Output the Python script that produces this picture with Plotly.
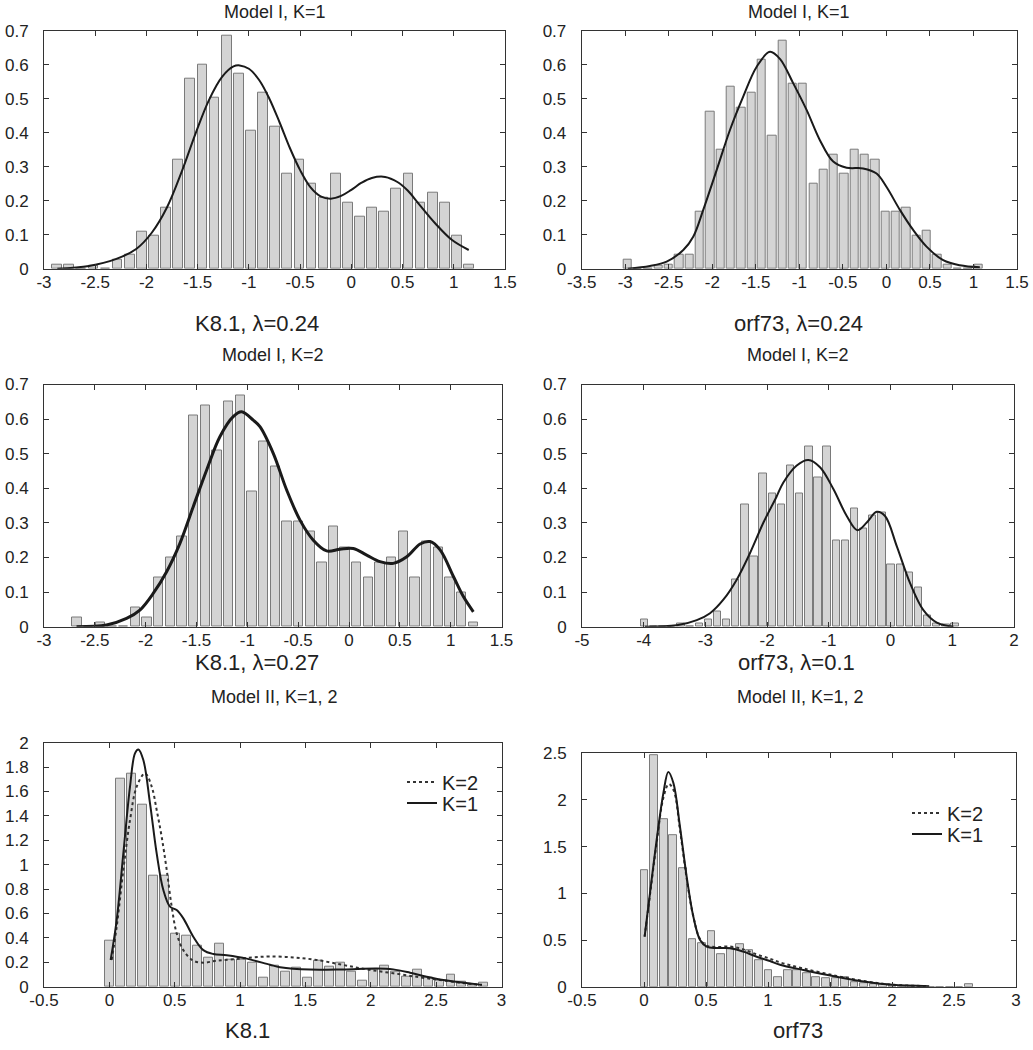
import plotly.graph_objects as go

W, H = 1033, 1050

# ---------------- DATA ----------------
# Panel 1: K8.1, Model I, K=1
p1_centers = [-2.873, -2.755, -2.636, -2.518, -2.400, -2.282, -2.163, -2.045, -1.927, -1.808,
              -1.690, -1.572, -1.454, -1.335, -1.217, -1.099, -0.981, -0.862, -0.744, -0.626,
              -0.507, -0.389, -0.271, -0.152, -0.034, 0.084, 0.202, 0.321, 0.439, 0.557,
              0.676, 0.794, 0.912, 1.031, 1.149]
p1_heights = [0.013, 0.013, 0, 0.010, 0, 0.027, 0.040, 0.110, 0.097, 0.180,
              0.320, 0.560, 0.600, 0.502, 0.684, 0.573, 0.405, 0.517, 0.418, 0.278,
              0.320, 0.250, 0.209, 0.278, 0.194, 0.153, 0.180, 0.167, 0.236, 0.278,
              0.194, 0.223, 0.194, 0.096, 0.013]
p1_curve_x = [-2.87, -2.56, -2.3, -2.1, -1.95, -1.8, -1.65, -1.52, -1.39, -1.26, -1.15, -1.09,
              -1.0, -0.9, -0.8, -0.7, -0.6, -0.5, -0.4, -0.3, -0.2, -0.1, 0.0, 0.1, 0.2,
              0.33, 0.45, 0.55, 0.66, 0.82, 0.98, 1.146]
p1_curve_y = [0.0, 0.008, 0.028, 0.058, 0.105, 0.180, 0.290, 0.398, 0.496, 0.565, 0.595, 0.598,
              0.588, 0.555, 0.500, 0.430, 0.355, 0.290, 0.240, 0.213, 0.206, 0.214, 0.232, 0.253,
              0.267, 0.270, 0.255, 0.230, 0.190, 0.133, 0.085, 0.055]

# Panel 2: orf73, Model I, K=1
p2_centers = [-2.972, -2.854, -2.735, -2.617, -2.498, -2.380, -2.261, -2.143, -2.024, -1.906,
              -1.787, -1.669, -1.550, -1.432, -1.313, -1.195, -1.076, -0.958, -0.839, -0.721,
              -0.602, -0.484, -0.365, -0.247, -0.128, -0.010, 0.109, 0.227, 0.346, 0.465,
              0.583, 0.702, 0.820, 0.939, 1.057]
p2_heights = [0.027, 0, 0, 0.010, 0.013, 0.040, 0.040, 0.167, 0.461, 0.349,
              0.535, 0.473, 0.518, 0.616, 0.391, 0.672, 0.545, 0.545, 0.251, 0.292,
              0.334, 0.278, 0.349, 0.334, 0.320, 0.167, 0.167, 0.180, 0.096, 0.111,
              0.040, 0.013, 0, 0, 0.013]
p2_curve_x = [-2.97, -2.716, -2.524, -2.333, -2.219, -2.104, -1.95, -1.797, -1.645, -1.49,
              -1.338, -1.223, -1.07, -0.917, -0.764, -0.611, -0.457, -0.267, -0.113, 0.0,
              0.155, 0.307, 0.461, 0.652, 0.843, 1.073]
p2_curve_y = [0.0, 0.008, 0.021, 0.055, 0.094, 0.173, 0.290, 0.408, 0.506, 0.594,
              0.638, 0.617, 0.545, 0.467, 0.378, 0.315, 0.297, 0.295, 0.280, 0.241,
              0.173, 0.114, 0.065, 0.025, 0.010, 0.004]

# Panel 3: K8.1, Model I, K=2
p3_centers = [-2.674, -2.559, -2.445, -2.330, -2.216, -2.101, -1.986, -1.872, -1.757, -1.643,
              -1.528, -1.413, -1.299, -1.184, -1.070, -0.955, -0.840, -0.726, -0.611, -0.497,
              -0.382, -0.267, -0.153, -0.038, 0.076, 0.191, 0.306, 0.420, 0.535, 0.649,
              0.764, 0.879, 0.993, 1.108, 1.222]
p3_heights = [0.027, 0, 0.0125, 0, 0, 0.056, 0.027, 0.143, 0.200, 0.260,
              0.609, 0.638, 0.508, 0.652, 0.667, 0.391, 0.536, 0.462, 0.303, 0.303,
              0.275, 0.187, 0.289, 0.229, 0.187, 0.143, 0.187, 0.200, 0.275, 0.143,
              0.246, 0.229, 0.143, 0.100, 0.0125]
p3_curve_x = [-2.68, -2.385, -2.188, -2.057, -1.926, -1.794, -1.663, -1.532, -1.40, -1.27,
              -1.139, -1.056, -0.942, -0.876, -0.745, -0.613, -0.482, -0.351, -0.22, -0.089,
              0.042, 0.174, 0.305, 0.436, 0.568, 0.699, 0.797, 0.896, 1.027, 1.125, 1.223]
p3_curve_y = [0.0, 0.005, 0.024, 0.048, 0.096, 0.159, 0.241, 0.347, 0.453, 0.549,
              0.607, 0.621, 0.597, 0.578, 0.501, 0.395, 0.308, 0.250, 0.219, 0.224,
              0.226, 0.207, 0.188, 0.183, 0.202, 0.239, 0.246, 0.222, 0.145, 0.087, 0.043]

# Panel 4: orf73, Model I, K=2
p4_centers = [-3.990, -3.842, -3.694, -3.546, -3.398, -3.250, -3.101, -2.953, -2.805, -2.657,
              -2.509, -2.361, -2.213, -2.065, -1.917, -1.769, -1.620, -1.472, -1.324, -1.176,
              -1.028, -0.880, -0.732, -0.584, -0.436, -0.288, -0.139, 0.009, 0.157, 0.305,
              0.453, 0.601, 0.749, 0.897, 1.045]
p4_heights = [0.021, 0, 0, 0, 0.010, 0, 0.010, 0.021, 0.044, 0.021,
              0.135, 0.352, 0.204, 0.443, 0.386, 0.352, 0.466, 0.386, 0.522, 0.432,
              0.522, 0.250, 0.250, 0.341, 0.283, 0.320, 0.330, 0.181, 0.181, 0.158,
              0.112, 0.032, 0.010, 0.005, 0.010]
p4_curve_x = [-3.98, -3.465, -3.14, -2.925, -2.71, -2.493, -2.277, -2.06, -1.85, -1.737,
              -1.52, -1.332, -1.143, -0.927, -0.71, -0.538, -0.386, -0.224, -0.09, 0.1,
              0.316, 0.532, 0.749, 1.018]
p4_curve_y = [0.0, 0.004, 0.019, 0.039, 0.078, 0.136, 0.213, 0.301, 0.375, 0.417,
              0.466, 0.482, 0.461, 0.398, 0.320, 0.279, 0.301, 0.332, 0.320, 0.233,
              0.126, 0.048, 0.012, 0.0]

# Panel 5: K8.1, Model II
p5_centers = [0.003, 0.087, 0.171, 0.255, 0.339, 0.424, 0.508, 0.592, 0.676, 0.760,
              0.845, 0.929, 1.013, 1.097, 1.181, 1.266, 1.350, 1.434, 1.518, 1.602,
              1.686, 1.771, 1.855, 1.939, 2.023, 2.107, 2.192, 2.276, 2.360, 2.444,
              2.528, 2.613, 2.697, 2.781, 2.865]
p5_heights = [0.377, 1.708, 1.749, 1.489, 0.913, 0.913, 0.437, 0.415, 0.336, 0.235,
              0.355, 0.219, 0.219, 0.197, 0.077, 0.170, 0.120, 0.153, 0.077, 0.213,
              0.164, 0.197, 0.120, 0.050, 0.142, 0.175, 0.120, 0.082, 0.137, 0.070,
              0.050, 0.096, 0.040, 0.020, 0.030]
p5_k1_x = [0.01, 0.056, 0.107, 0.158, 0.196, 0.222, 0.26, 0.311, 0.362, 0.413, 0.464, 0.515,
           0.566, 0.642, 0.719, 0.795, 0.898, 1.051, 1.229, 1.306, 1.535, 1.79, 2.045, 2.172,
           2.30, 2.428, 2.555, 2.70, 2.85]
p5_k1_y = [0.219, 0.546, 1.093, 1.639, 1.913, 1.945, 1.858, 1.503, 1.093, 0.792, 0.656, 0.628,
           0.560, 0.410, 0.300, 0.268, 0.257, 0.230, 0.180, 0.160, 0.140, 0.142, 0.150, 0.142,
           0.115, 0.082, 0.055, 0.035, 0.015]
p5_k2_x = [0.018, 0.056, 0.107, 0.158, 0.209, 0.273, 0.324, 0.362, 0.40, 0.439, 0.477, 0.515,
           0.566, 0.642, 0.719, 0.821, 0.948, 1.101, 1.229, 1.408, 1.586, 1.79, 1.969, 2.172,
           2.377, 2.53, 2.70, 2.85]
p5_k2_y = [0.22, 0.49, 0.956, 1.366, 1.639, 1.749, 1.640, 1.448, 1.230, 0.956, 0.656, 0.437,
           0.300, 0.213, 0.197, 0.213, 0.224, 0.240, 0.248, 0.240, 0.219, 0.178, 0.142, 0.110,
           0.077, 0.055, 0.030, 0.015]

# Panel 6: orf73, Model II
p6_centers = [0.005, 0.082, 0.159, 0.236, 0.313, 0.390, 0.466, 0.543, 0.620, 0.697,
              0.774, 0.851, 0.928, 1.005, 1.082, 1.159, 1.236, 1.312, 1.389, 1.466,
              1.543, 1.620, 1.697, 1.774, 1.851, 1.928, 2.004, 2.081, 2.158, 2.235,
              2.312, 2.389, 2.466, 2.543, 2.620]
p6_heights = [1.243, 2.479, 1.793, 1.621, 1.264, 0.507, 0.464, 0.593, 0.350, 0.407,
              0.457, 0.393, 0.286, 0.179, 0.107, 0.179, 0.172, 0.143, 0.107, 0.090,
              0.090, 0.107, 0.050, 0.040, 0.030, 0.030, 0.020, 0.010, 0.010, 0,
              0, 0, 0, 0, 0.030]
p6_k1_x = [0.005, 0.048, 0.102, 0.156, 0.196, 0.237, 0.29, 0.344, 0.398, 0.452, 0.505, 0.586,
           0.694, 0.80, 0.909, 1.016, 1.097, 1.285, 1.554, 1.80, 2.0, 2.3]
p6_k1_y = [0.536, 1.0, 1.571, 2.07, 2.30, 2.18, 1.714, 1.179, 0.75, 0.50, 0.429, 0.414,
           0.411, 0.375, 0.321, 0.275, 0.235, 0.179, 0.107, 0.050, 0.020, 0.005]
p6_k2_x = [0.005, 0.048, 0.102, 0.156, 0.200, 0.240, 0.29, 0.344, 0.398, 0.452, 0.505, 0.586,
           0.694, 0.80, 0.909, 1.016, 1.097, 1.285, 1.554, 1.80, 2.0, 2.3]
p6_k2_y = [0.536, 0.98, 1.54, 2.02, 2.17, 2.10, 1.68, 1.16, 0.75, 0.51, 0.44, 0.425,
           0.43, 0.40, 0.345, 0.30, 0.26, 0.195, 0.115, 0.055, 0.022, 0.006]

# ---------------- LAYOUT HELPERS ----------------
def dx(px):
    return px / W

def dy(py):
    return 1 - py / H

FONT = "Arial, Liberation Sans, Helvetica, sans-serif"
AX = "#333333"
TICK_FONT = dict(size=17, family=FONT, color="#222")

def axis_common(vals, anchor):
    return dict(tickvals=vals, ticktext=[("%g" % v) for v in vals], anchor=anchor,
                showline=True, linecolor=AX, linewidth=1, mirror="ticks",
                ticks="inside", ticklen=5, tickcolor=AX, showgrid=False, zeroline=False,
                tickfont=TICK_FONT, automargin=False)

def xaxis(p0, p1, rng, vals, anchor):
    d = axis_common(vals, anchor)
    d.update(domain=[dx(p0), dx(p1)], range=rng, ticklabelstandoff=-2)
    return d

def yaxis(p0, p1, rng, vals, anchor):
    d = axis_common(vals, anchor)
    d.update(domain=[dy(p1), dy(p0)], range=rng, ticklabelstandoff=11)
    return d

fig = go.Figure()

BAR_FILL = "#d4d4d4"
BAR_EDGE = "#7a7a7a"

def bars(centers, heights, xa, ya):
    w = (centers[-1] - centers[0]) / (len(centers) - 1)
    fig.add_trace(go.Bar(x=centers, y=heights, width=w * 0.8, xaxis=xa, yaxis=ya,
                         marker=dict(color=BAR_FILL, line=dict(color=BAR_EDGE, width=1)),
                         showlegend=False, hoverinfo="skip"))

def curve(x, y, xa, ya, width=2, dash="solid", name=None, legend=None, color="#1a1a1a"):
    kw = {}
    if legend:
        kw["legend"] = legend
    fig.add_trace(go.Scatter(x=x, y=y, mode="lines", xaxis=xa, yaxis=ya,
                             line=dict(color=color, width=width, dash=dash,
                                       shape="spline", smoothing=1.0),
                             name=name, showlegend=name is not None, **kw))

bars(p1_centers, p1_heights, "x", "y")
curve(p1_curve_x, p1_curve_y, "x", "y")
bars(p2_centers, p2_heights, "x2", "y2")
curve(p2_curve_x, p2_curve_y, "x2", "y2")
bars(p3_centers, p3_heights, "x3", "y3")
curve(p3_curve_x, p3_curve_y, "x3", "y3", width=3)
bars(p4_centers, p4_heights, "x4", "y4")
curve(p4_curve_x, p4_curve_y, "x4", "y4")
bars(p5_centers, p5_heights, "x5", "y5")
curve(p5_k2_x, p5_k2_y, "x5", "y5", width=2, dash="dot", name="K=2", legend="legend", color="#333")
curve(p5_k1_x, p5_k1_y, "x5", "y5", width=2, name="K=1", legend="legend2")
bars(p6_centers, p6_heights, "x6", "y6")
curve(p6_k2_x, p6_k2_y, "x6", "y6", width=2, dash="dot", name="K=2", legend="legend3", color="#333")
curve(p6_k1_x, p6_k1_y, "x6", "y6", width=2, name="K=1", legend="legend4")

def steps(a, b, s):
    out = []
    v = a
    while v <= b + 1e-9:
        out.append(round(v, 3))
        v += s
    return out

LEG_FONT = dict(size=20, family=FONT, color="#222")

def leg(px, py):
    return dict(x=dx(px), y=dy(py), xanchor="left", yanchor="middle",
                bgcolor="rgba(0,0,0,0)", font=LEG_FONT, itemwidth=30)

layout = dict(
    width=W, height=H, margin=dict(l=0, r=0, t=0, b=0, autoexpand=False),
    paper_bgcolor="white", plot_bgcolor="white", bargap=0,
    font=dict(family=FONT, color="#222"),
    xaxis=xaxis(44, 505, [-3, 1.5], steps(-3, 1.5, 0.5), "y"),
    yaxis=yaxis(30.7, 268.7, [0, 0.7], steps(0, 0.7, 0.1), "x"),
    xaxis2=xaxis(581.7, 1017, [-3.5, 1.5], steps(-3.5, 1.5, 0.5), "y2"),
    yaxis2=yaxis(30.7, 268.7, [0, 0.7], steps(0, 0.7, 0.1), "x2"),
    xaxis3=xaxis(44, 501.5, [-3, 1.5], steps(-3, 1.5, 0.5), "y3"),
    yaxis3=yaxis(384.5, 626.7, [0, 0.7], steps(0, 0.7, 0.1), "x3"),
    xaxis4=xaxis(582, 1014, [-5, 2], steps(-5, 2, 1), "y4"),
    yaxis4=yaxis(384.5, 626.7, [0, 0.7], steps(0, 0.7, 0.1), "x4"),
    xaxis5=xaxis(44, 501.5, [-0.5, 3], steps(-0.5, 3, 0.5), "y5"),
    yaxis5=yaxis(742.7, 986.7, [0, 2], steps(0, 2, 0.2), "x5"),
    xaxis6=xaxis(582, 1016, [-0.5, 3], steps(-0.5, 3, 0.5), "y6"),
    yaxis6=yaxis(753.2, 986.7, [0, 2.5], steps(0, 2.5, 0.5), "x6"),
    legend=leg(402, 782),
    legend2=leg(402, 803),
    legend3=leg(907, 813),
    legend4=leg(907, 834),
)
fig.update_layout(**layout)

titles = [("Model I, K=1", 274.5, 12), ("Model I, K=1", 799, 12),
          ("Model I, K=2", 273, 355), ("Model I, K=2", 798, 355),
          ("Model II, K=1, 2", 274, 697), ("Model II, K=1, 2", 800, 697)]
for t, x, y in titles:
    fig.add_annotation(text=t, x=dx(x), y=dy(y), xref="paper", yref="paper",
                       xanchor="center", yanchor="middle",
                       showarrow=False, font=dict(size=18, family=FONT, color="#222"))

xlabels = [("K8.1, λ=0.24", 257, 323), ("orf73, λ=0.24", 798, 323),
           ("K8.1, λ=0.27", 257, 662), ("orf73, λ=0.1", 796, 662),
           ("K8.1", 247, 1030), ("orf73", 798, 1030)]
for t, x, y in xlabels:
    fig.add_annotation(text=t, x=dx(x), y=dy(y), xref="paper", yref="paper",
                       xanchor="center", yanchor="middle",
                       showarrow=False, font=dict(size=22, family=FONT, color="#222"))

# remove the default page margin so the figure sits at the window's top-left corner
fig.write_html("out.html", config={"displayModeBar": False},
               post_script="document.body.style.margin='0';")
